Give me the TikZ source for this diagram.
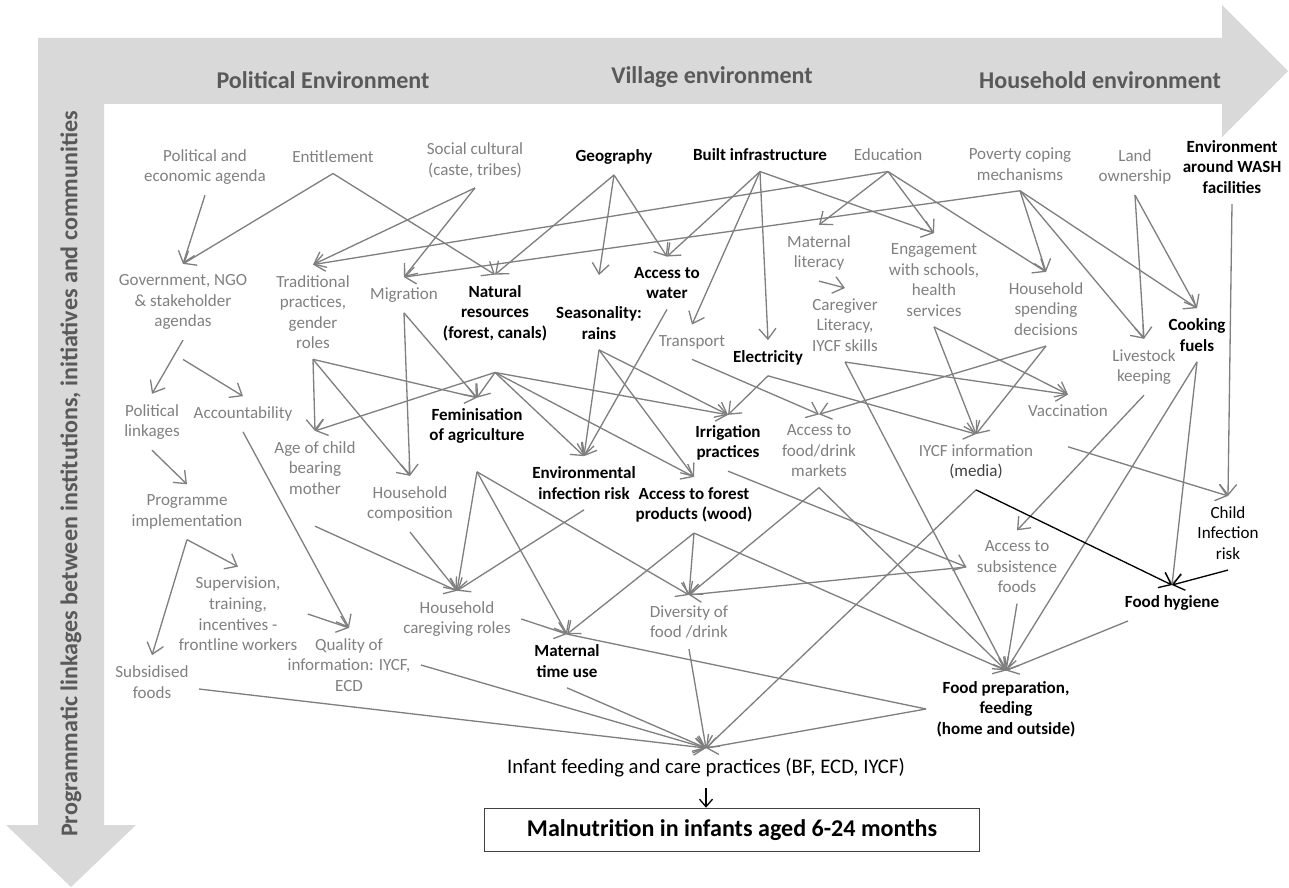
\documentclass[tikz,border=0pt]{standalone}
\usepackage{fontspec}
\setmainfont{Carlito}
\usepackage{xcolor}
\usepackage{tikz}
\usetikzlibrary{arrows.meta}

\definecolor{bandgray}{HTML}{D9D9D9}
\definecolor{headgray}{HTML}{595959}
\definecolor{labgray}{HTML}{808080}
\definecolor{linegray}{HTML}{7F7F7F}

\begin{document}
\begin{tikzpicture}[
    x=0.02cm, y=-0.02cm,
    lab/.style={align=center, text=labgray, inner sep=1pt, outer sep=5pt, font=\fontsize{9.7}{11.7}\selectfont},
    key/.style={lab, text=black, font=\fontsize{9.7}{11.7}\selectfont\bfseries},
    head/.style={text=headgray, font=\fontsize{13.7}{16}\selectfont\bfseries},
    link/.style={color=linegray, line width=0.75pt, -{Straight Barb[length=2.1mm, width=3.4mm]}},
    plain/.style={color=linegray, line width=0.75pt},
    blink/.style={link, color=black}
]
    \useasboundingbox (0,0) rectangle (1289,888);

    % the two broad arrows
    \fill[bandgray] (38,38) -- (1222,38) -- (1222,5) -- (1288,71) -- (1222,137) -- (1222,104)
        -- (104,104) -- (104,825) -- (136,825) -- (71,887) -- (6,825) -- (38,825) -- cycle;
    \node[head] (polenv) at (323,80) {Political Environment};
    \node[head] (vilenv) at (712,77) {Village environment};
    \node[head] (hhenv) at (1100,80) {Household environment};
    \node[head, rotate=90] (proglink) at (71,474) {Programmatic linkages between institutions, initiatives and communities};

    % top row
    \node[lab] (pea) at (205,167) {Political and\\economic agenda};
    \node[lab] (ent) at (333,157) {Entitlement};
    \node[lab] (soc) at (475,160) {Social cultural\\(caste, tribes)};
    \node[key] (geo) at (614,157) {Geography};
    \node[key] (bui) at (760,155) {Built infrastructure};
    \node[lab] (edu) at (888,155) {Education};
    \node[lab] (pov) at (1020,164) {Poverty coping\\mechanisms};
    \node[lab] (land) at (1135,167) {Land\\ownership};
    \node[key] (wash) at (1232,167) {Environment\\around WASH\\facilities};

    % middle
    \node[lab] (gov) at (183,302) {Government, NGO\\\& stakeholder\\agendas};
    \node[lab] (trad) at (313,312) {Traditional\\practices,\\gender\\roles};
    \node[lab] (mig) at (404,295) {Migration};
    \node[key] (nat) at (495,313) {Natural\\resources\\(forest, canals)};
    \node[key] (sea) at (599,323) {Seasonality:\\rains};
    \node[key] (wat) at (667,283) {Access to\\water};
    \node[lab] (mlit) at (819,253) {Maternal\\literacy};
    \node[lab] (cgl) at (845,325) {Caregiver\\Literacy,\\IYCF skills};
    \node[lab] (eng) at (934,280) {Engagement\\with schools,\\health\\services};
    \node[lab] (spend) at (1046,309) {Household\\spending\\decisions};
    \node[key] (cook) at (1197,335) {Cooking\\fuels};
    \node[lab] (tra) at (692,342) {Transport};
    \node[key] (ele) at (768,358) {Electricity};
    \node[lab] (live) at (1144,367) {Livestock\\keeping};
    \node[lab] (vac) at (1068,411) {Vaccination};
    \node[lab] (plink) at (152,422) {Political\\linkages};
    \node[lab] (acc) at (243,414) {Accountability};
    \node[lab] (age) at (315,468) {Age of child\\bearing\\mother};
    \node[key] (fem) at (477,426) {Feminisation\\of agriculture};
    \node[key] (irr) at (728,443) {Irrigation\\practices};
    \node[lab] (mkt) at (819,451) {Access to\\food/drink\\markets};
    \node[lab] (iycf) at (976,462) {IYCF information\\\textcolor{black!75}{(media)}};
    \node[key] (env) at (584,483) {Environmental\\infection risk};
    \node[key] (wood) at (694,505) {Access to forest\\products (wood)};
    \node[lab] (hcomp) at (410,504) {Household\\composition};
    \node[lab] (prog) at (187,512) {Programme\\implementation};
    \node[lab, text=black] (cinf) at (1228,533) {Child\\Infection\\risk};
    \node[lab] (subs) at (1017,567) {Access to\\subsistence\\foods};
    \node[key] (hyg) at (1172,603) {Food hygiene};

    % lower part
    \node[lab] (superv) at (238,614) {Supervision,\\training,\\incentives -\\frontline workers};
    \node[lab] (care) at (457,619) {Household\\caregiving roles};
    \node[lab] (div) at (689,622) {Diversity of\\food /drink};
    \node[lab] (qual) at (349,665) {Quality of\\information: IYCF,\\ECD};
    \node[lab] (subf) at (152,682) {Subsidised\\foods};
    \node[key] (mtu) at (567,661) {Maternal\\time use};
    \node[key] (prep) at (1006,709) {Food preparation,\\feeding\\(home and outside)};
    \node[lab, text=black, font=\fontsize{11.8}{14}\selectfont] (inf) at (706,768) {Infant feeding and care practices (BF, ECD, IYCF)};
    \node[draw=black!75, line width=0.9pt, minimum width=9.9cm, minimum height=0.86cm,
        font=\fontsize{13.7}{16}\selectfont\bfseries] (mal) at (732,830) {Malnutrition in infants aged 6-24 months};

    % links from the top row
    \path[link]
        (pea.south) edge (gov.north)
        (ent.south) edge (gov.north) edge (nat.north)
        (soc.south) edge (trad.north) edge (mig.north)
        (geo.south) edge (nat.north) edge ([yshift=12pt]sea.north) edge (wat.north)
        (bui.south) edge (wat.north) edge (tra.north) edge (ele.north) edge (eng.north)
        (edu.south) edge (trad.north) edge (mlit.north) edge (eng.north) edge (spend.north)
        (pov.south) edge (mig.north) edge (spend.north) edge (live.north) edge (cook.north)
        (land.south) edge (live.north) edge (cook.north)
        (wash.south) edge (cinf.north);

    % links in the middle
    \path[link]
        (gov.south) edge (plink.north)
        ([yshift=-11pt]gov.south) edge (acc.north)
        (plink.south) edge (prog.north)
        (prog.south) edge (superv.north) edge (subf.north)
        (acc.south) edge (qual.north)
        (superv.east) edge (qual.north)
        (trad.south) edge (age.north) edge (hcomp.north) edge (fem.north)
        (mig.south) edge (hcomp.north) edge (fem.north)
        ([yshift=-12pt]nat.south) edge (age.north) edge (fem.north) edge (env.north) edge (wood.north) edge (irr.north)
        (sea.south) edge (env.north) edge (irr.north) edge (wood.north)
        (wat.south) edge (env.north)
        (tra.south) edge (mkt.north)
        (ele.south) edge (irr.north) edge (iycf.north)
        (mlit.south) edge (cgl.north)
        (cgl.south) edge (vac.north) edge (prep.north)
        (eng.south) edge (iycf.north) edge (vac.north)
        (spend.south) edge (mkt.north) edge (iycf.north)
        (live.south) edge (subs.north)
        (cook.south) edge (hyg.north) edge (prep.north)
        ([yshift=-11pt]vac.south) edge (cinf.north);

    % links down to feeding
    \path[link]
        ([yshift=-12pt]age.south) edge (care.north)
        (hcomp.south) edge (care.north)
        (env.south) edge (care.north)
        ([yshift=-10pt]fem.south) edge (care.north) edge (mtu.north) edge (div.north)
        (wood.south) edge (mtu.north) edge (div.north) edge (prep.north)
        (irr.south) edge (subs.west)
        (subs.west) edge (div.north)
        (subs.south) edge (prep.north)
        (mkt.south) edge (div.north) edge (prep.north)
        ([xshift=-25pt]hyg.south) edge (prep.north)
        (care.east) edge (mtu.north)
        (iycf.south) edge (inf.north)
        (prep.west) edge (inf.north)
        ([yshift=-4pt]subf.east) edge (inf.north)
        (qual.east) edge (inf.north)
        (mtu.south) edge (inf.north)
        (div.south) edge (inf.north);
    \draw[plain] (mtu.north) -- (prep.west);
    \path[blink]
        (iycf.south) edge (hyg.north)
        (cinf.south) edge (hyg.north);
    \draw[black, line width=0.75pt, -{Straight Barb[length=1.5mm, width=2.6mm]}] (inf.south) -- (inf.south |- mal.north);
\end{tikzpicture}
\end{document}
